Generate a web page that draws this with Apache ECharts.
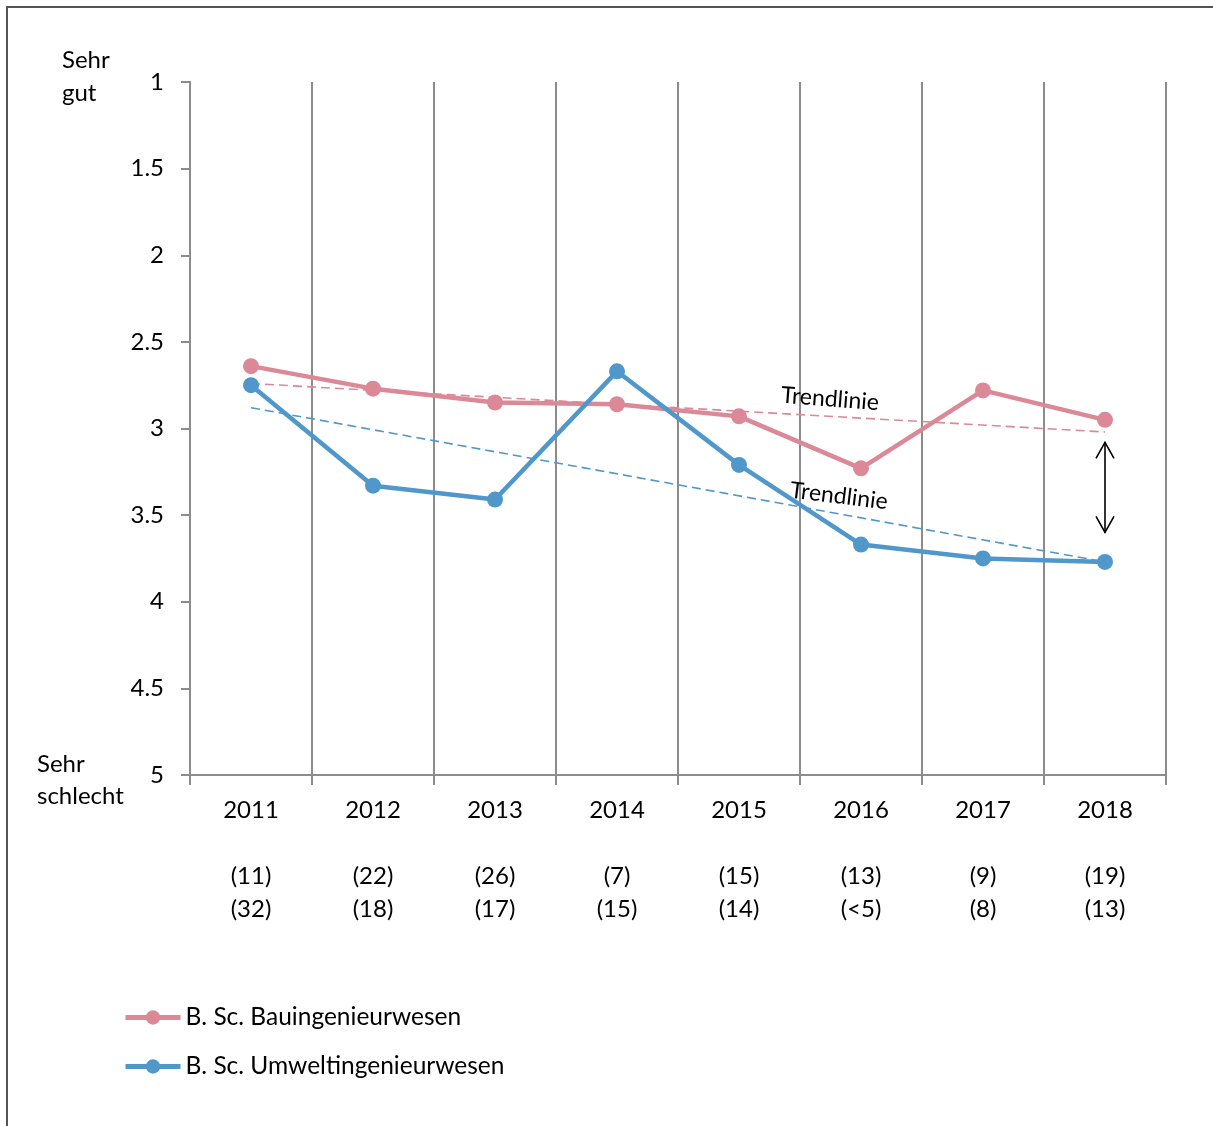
<!DOCTYPE html>
<html>
<head>
<meta charset="utf-8">
<script src="https://cdn.jsdelivr.net/npm/echarts@6/dist/echarts.min.js"></script>
<style>
html,body{margin:0;padding:0;background:#fff;}
#c{width:1213px;height:1126px;}
</style>
</head>
<body>
<div id="c"></div>
<script>
const years = ['2011','2012','2013','2014','2015','2016','2017','2018'];
const nBau = ['11','22','26','7','15','13','9','19'];
const nUmwelt = ['32','18','17','15','14','<5','8','13'];
const bau = [2.64, 2.77, 2.85, 2.86, 2.93, 3.23, 2.78, 2.95];
const umwelt = [2.75, 3.33, 3.41, 2.67, 3.21, 3.67, 3.75, 3.77];
const trendBau = [2.74, null, null, null, null, null, null, 3.02];
const trendUmwelt = [2.88, null, null, null, null, null, null, 3.77];
const arrowRange = [3.08, 3.60];
const yTicks = [1, 1.5, 2, 2.5, 3, 3.5, 4, 4.5, 5];
const nameBau = 'B. Sc. Bauingenieurwesen';
const nameUmwelt = 'B. Sc. Umweltingenieurwesen';

const FONT = 'Lato';
const FS = 24;
const PINK = '#DB8897';
const BLUE = '#5097CB';
const GRAY = '#8c8c8c';

const chart = echarts.init(document.getElementById('c'));
const option = {
  animation: false,
  backgroundColor: '#fff',
  textStyle: {fontFamily: FONT, color: '#000'},
  grid: {left: 190, right: 47, top: 82, bottom: 351, containLabel: false},
  legend: {
    data: [nameBau, nameUmwelt],
    orient: 'vertical',
    left: 123, top: 1005, padding: 0,
    itemWidth: 55, itemHeight: 18, itemGap: 24,
    lineStyle: {width: 5},
    textStyle: {fontFamily: FONT, fontSize: 24.5, color: '#000'}
  },
  xAxis: {
    type: 'category',
    data: years,
    boundaryGap: true,
    axisLine: {lineStyle: {color: GRAY, width: 2}},
    axisTick: {show: true, alignWithLabel: false, interval: 0, length: 10, lineStyle: {color: GRAY, width: 2}},
    splitLine: {show: true, interval: 0, lineStyle: {color: GRAY, width: 2}},
    axisLabel: {
      interval: 0, margin: 19, fontFamily: FONT, fontSize: FS, color: '#000', lineHeight: 33,
      formatter: function (v, i) { return v + '\n\n(' + nBau[i] + ')\n(' + nUmwelt[i] + ')'; }
    }
  },
  yAxis: {
    type: 'value',
    inverse: true,
    min: 1, max: 5, interval: 0.5,
    axisLine: {show: true, lineStyle: {color: GRAY, width: 2}},
    axisTick: {show: true, length: 9, lineStyle: {color: GRAY, width: 2}},
    splitLine: {show: false},
    axisLabel: {margin: 26, fontFamily: FONT, fontSize: FS, color: '#000',
      formatter: function (v) { return yTicks.indexOf(v) >= 0 ? String(v) : ''; }}
  },
  series: [
    {
      name: nameBau + ' Trend', type: 'line', data: trendBau, connectNulls: true,
      symbol: 'none', lineStyle: {color: PINK, width: 1.6, type: [9, 5]}, z: 1, silent: true
    },
    {
      name: nameUmwelt + ' Trend', type: 'line', data: trendUmwelt, connectNulls: true,
      symbol: 'none', lineStyle: {color: BLUE, width: 1.6, type: [9, 5]}, z: 1, silent: true
    },
    {
      name: nameBau, type: 'line', data: bau, symbol: 'circle', symbolSize: 16,
      itemStyle: {color: PINK}, lineStyle: {color: PINK, width: 4.5}, z: 3
    },
    {
      name: nameUmwelt, type: 'line', data: umwelt, symbol: 'circle', symbolSize: 16,
      itemStyle: {color: BLUE}, lineStyle: {color: BLUE, width: 4.5}, z: 4
    }
  ]
};
chart.setOption(option);

const pTop = chart.convertToPixel({gridIndex: 0}, [years[7], arrowRange[0]]);
const pBot = chart.convertToPixel({gridIndex: 0}, [years[7], arrowRange[1]]);
const ax = pTop[0];
const head = 10, hw = 9;
chart.setOption({
  graphic: [
    {type: 'rect', shape: {x: 7, y: 7, width: 1300, height: 1300}, style: {fill: 'none', stroke: '#555', lineWidth: 2}, silent: true, z: 0},
    {type: 'text', left: 62, top: 44, style: {text: 'Sehr\ngut', font: FS + 'px ' + FONT, fill: '#000', lineHeight: 33}},
    {type: 'text', left: 37, top: 748, style: {text: 'Sehr\nschlecht', font: FS + 'px ' + FONT, fill: '#000', lineHeight: 32}},
    {type: 'text', x: 830, y: 399, rotation: -4.5 * Math.PI / 180,
      style: {text: 'Trendlinie', font: '23px ' + FONT, fill: '#000', align: 'center', verticalAlign: 'middle'}},
    {type: 'text', x: 839, y: 496, rotation: -7 * Math.PI / 180,
      style: {text: 'Trendlinie', font: '23px ' + FONT, fill: '#000', align: 'center', verticalAlign: 'middle'}},
    {type: 'line', shape: {x1: ax, y1: pTop[1], x2: ax, y2: pBot[1]}, style: {stroke: '#000', lineWidth: 1.6}},
    {type: 'polyline', shape: {points: [[ax - hw, pTop[1] + head + 6], [ax, pTop[1]], [ax + hw, pTop[1] + head + 6]]}, style: {stroke: '#000', lineWidth: 1.6, fill: 'none'}},
    {type: 'polyline', shape: {points: [[ax - hw, pBot[1] - head - 6], [ax, pBot[1]], [ax + hw, pBot[1] - head - 6]]}, style: {stroke: '#000', lineWidth: 1.6, fill: 'none'}}
  ]
});
</script>
</body>
</html>
